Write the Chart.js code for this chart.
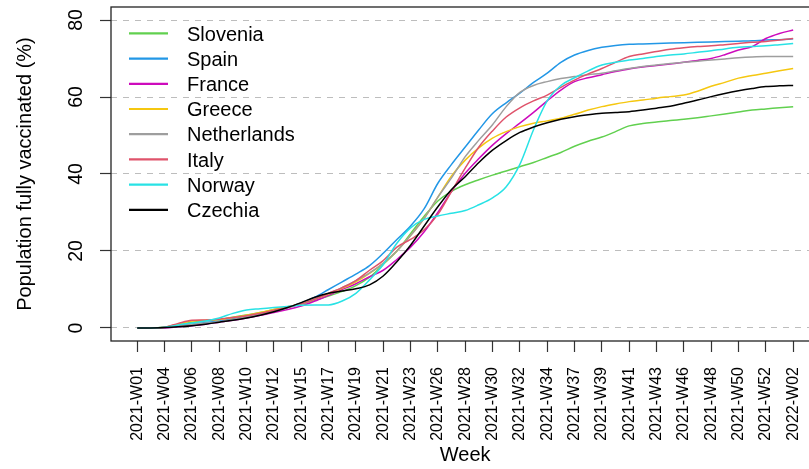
<!DOCTYPE html>
<html><head><meta charset="utf-8">
<script src="https://cdn.jsdelivr.net/npm/chart.js@4.4.1/dist/chart.umd.min.js"></script>
<style>
html,body{margin:0;padding:0;overflow:hidden;background:#fff;width:809px;height:469px}
#wrap{position:relative;width:840px;height:469px}
canvas{display:block}
</style></head>
<body><div id="wrap"><canvas id="c" width="840" height="469"></canvas></div>
<script>
// ---- data ----
const weekLabels = ['2021-W01','2021-W04','2021-W06','2021-W08','2021-W10','2021-W12','2021-W15','2021-W17','2021-W19','2021-W21','2021-W23','2021-W26','2021-W28','2021-W30','2021-W32','2021-W34','2021-W37','2021-W39','2021-W41','2021-W43','2021-W46','2021-W48','2021-W50','2021-W52','2022-W02'];
// sample positions along the week axis (in label-step units, half steps)
const samplePos = [0,0.5,1,1.5,2,2.5,3,3.5,4,4.5,5,5.5,6,6.5,7,7.5,8,8.5,9,9.5,10,10.5,11,11.5,12,12.5,13,13.5,14,14.5,15,15.5,16,16.5,17,17.5,18,18.5,19,19.5,20,20.5,21,21.5,22,22.5,23,23.5,24];
const yTicks = [0,20,40,60,80];
const countries = ['Slovenia','Spain','France','Greece','Netherlands','Italy','Norway','Czechia'];
const colors = ['#61D04F','#2297E6','#CD0BBC','#F5C710','#9E9E9E','#DF536B','#28E2E5','#000000'];

const slovenia = [0,0,0.2,0.8,1.5,1.9,2.2,2.8,3.4,4.0,4.8,5.5,6.2,7.2,8.3,9.5,11.0,13.2,16.5,20.0,24.5,29.0,33.0,35.5,37.2,38.5,39.7,40.8,41.9,43.0,44.3,45.6,47.2,48.5,49.6,51.0,52.5,53.1,53.5,53.9,54.2,54.6,55.1,55.6,56.1,56.6,56.9,57.2,57.5];
const spain = [0,0,0.1,0.5,1.0,1.4,1.8,2.4,3.0,3.6,4.5,5.3,6.5,8.0,10.0,12.0,14.0,16.2,19.4,23.0,26.5,31.0,37.6,42.5,47.0,51.5,55.7,58.5,61.0,63.8,66.2,69.0,70.9,72.1,72.9,73.4,73.7,73.8,73.9,74.0,74.1,74.2,74.3,74.4,74.5,74.6,74.8,74.9,75.1];
const france = [0,0,0,0.3,0.6,1.0,1.5,2.0,2.6,3.3,4.0,4.8,5.7,7.0,8.5,10.0,11.5,13.3,15.0,17.8,21.0,25.0,30.0,35.5,40.2,44.0,47.5,50.5,53.2,56.0,59.0,61.8,64.0,65.0,65.8,66.6,67.3,67.8,68.2,68.6,69.0,69.5,70.0,71.0,72.2,73.1,75.2,76.5,77.4];
const greece = [0,0,0.2,1.0,1.8,2.0,2.2,2.7,3.3,4.0,4.8,5.5,6.3,7.5,8.8,10.3,12.0,14.2,16.8,20.0,24.0,28.5,34.0,39.5,43.6,46.8,49.3,51.0,52.3,53.2,53.8,54.5,55.5,56.6,57.5,58.2,58.8,59.2,59.7,60.1,60.5,61.5,62.8,63.8,64.9,65.6,66.2,66.8,67.4];
const netherlands = [0,0,0.1,0.5,1.0,1.3,1.6,2.2,2.9,3.6,4.4,5.2,6.2,7.5,9.0,10.5,12.3,14.3,16.8,20.0,24.0,28.5,34.0,39.0,44.5,48.8,52.8,57.5,61.2,63.0,64.0,64.8,65.3,65.8,66.2,66.8,67.4,67.9,68.3,68.7,69.0,69.3,69.6,69.9,70.2,70.4,70.5,70.5,70.5];
const italy = [0,0,0.2,1.2,2.0,2.1,2.3,2.7,3.2,3.8,4.6,5.4,6.3,7.5,9.0,10.5,12.3,15.0,17.5,21.0,23.0,25.5,29.5,35.5,41.5,47.0,51.2,54.8,57.2,59.0,60.5,62.5,64.4,66.0,67.4,69.0,70.5,71.2,71.8,72.4,72.8,73.1,73.3,73.6,73.9,74.2,74.4,74.8,75.2];
const norway = [0,0,0.2,0.8,1.3,1.8,2.6,3.8,4.7,5.0,5.3,5.6,5.9,6.0,6.0,7.0,9.0,12.5,16.5,22.0,26.0,28.2,29.1,29.8,30.5,32.0,33.8,36.7,42.5,51.5,59.0,63.0,65.0,66.8,68.3,69.0,69.6,70.0,70.5,70.9,71.2,71.6,72.0,72.5,72.9,73.1,73.3,73.6,73.9];
const czechia = [0,0,0.1,0.3,0.6,1.0,1.5,2.0,2.6,3.3,4.2,5.3,6.6,8.0,9.0,9.6,10.2,11.2,13.5,17.2,21.5,26.5,31.5,36.0,39.3,43.0,46.2,48.7,50.8,52.2,53.3,54.2,54.9,55.4,55.8,56.0,56.2,56.6,57.1,57.6,58.4,59.2,60.1,60.9,61.6,62.2,62.7,62.9,63.0];

const series = [slovenia, spain, france, greece, netherlands, italy, norway, czechia];

// ---- chart ----
const FONT = '"Liberation Sans", Arial, Helvetica, sans-serif';
const CANVAS_W = 840;
const PLOT_RIGHT = 819.4;

const datasets = countries.map((name, i) => ({
  label: name,
  data: samplePos.map((x, j) => ({x: x, y: series[i][j]})),
  borderColor: colors[i],
  backgroundColor: colors[i],
  borderWidth: 1.5,
  pointRadius: 0,
  fill: false,
  cubicInterpolationMode: 'monotone',
  order: countries.length - i
}));

const decorPlugin = {
  id: 'decor',
  afterDraw(chart) {
    const ctx = chart.ctx;
    const a = chart.chartArea;
    const ys = chart.scales.y;
    ctx.save();
    // plot box
    ctx.strokeStyle = '#222';
    ctx.lineWidth = 1.3;
    ctx.strokeRect(a.left, a.top, a.right - a.left, a.bottom - a.top);
    // rotated y tick labels
    ctx.fillStyle = '#000';
    ctx.font = '19.5px ' + FONT;
    ctx.textAlign = 'center';
    ctx.textBaseline = 'alphabetic';
    ys.ticks.forEach(t => {
      const py = ys.getPixelForValue(t.value);
      ctx.save();
      ctx.translate(82, py);
      ctx.rotate(-Math.PI / 2);
      ctx.fillText(String(t.value), 0, 0);
      ctx.restore();
    });
    // legend
    ctx.font = '20px ' + FONT;
    ctx.textAlign = 'left';
    countries.forEach((name, i) => {
      const cy = 33.4 + i * 25.2;
      ctx.strokeStyle = colors[i];
      ctx.lineWidth = 2.2;
      ctx.beginPath();
      ctx.moveTo(129, cy);
      ctx.lineTo(168, cy);
      ctx.stroke();
      ctx.fillStyle = '#000';
      ctx.fillText(name, 187, cy + 7.2);
    });
    ctx.restore();
  }
};

new Chart(document.getElementById('c'), {
  type: 'line',
  data: { datasets: datasets },
  plugins: [decorPlugin],
  options: {
    responsive: false,
    animation: false,
    devicePixelRatio: 1,
    layout: { padding: { top: 7, right: CANVAS_W - PLOT_RIGHT, left: 0, bottom: 0 } },
    plugins: { legend: { display: false }, tooltip: { enabled: false } },
    scales: {
      x: {
        type: 'linear', min: -0.96, max: 24.96,
        afterBuildTicks: s => { s.ticks = weekLabels.map((_, i) => ({value: i})); },
        afterFit: s => { s.height = 128; },
        ticks: {
          autoSkip: false, minRotation: 90, maxRotation: 90, padding: 15,
          color: '#000', font: { family: FONT, size: 16 },
          callback: (v, i) => weekLabels[i]
        },
        grid: { drawOnChartArea: false, drawTicks: true, tickLength: 11, tickColor: '#333', tickWidth: 1.2 },
        border: { display: false },
        title: { display: true, text: 'Week', color: '#000', font: { family: FONT, size: 20 }, padding: { top: 0, bottom: 2 } }
      },
      y: {
        type: 'linear', min: -3.38, max: 83.38,
        afterBuildTicks: s => { s.ticks = yTicks.map(v => ({value: v})); },
        afterFit: s => { s.width = 111; },
        ticks: { display: false },
        grid: { color: '#bdbdbd', lineWidth: 1, drawTicks: true, tickLength: 11, tickColor: '#333', tickWidth: 1.2, tickBorderDash: [100, 0] },
        border: { display: false, dash: [6, 6] },
        title: { display: true, text: 'Population fully vaccinated (%)', color: '#000', font: { family: FONT, size: 20 }, padding: { top: 13, bottom: 0 } }
      }
    }
  }
});
</script>
</body></html>
